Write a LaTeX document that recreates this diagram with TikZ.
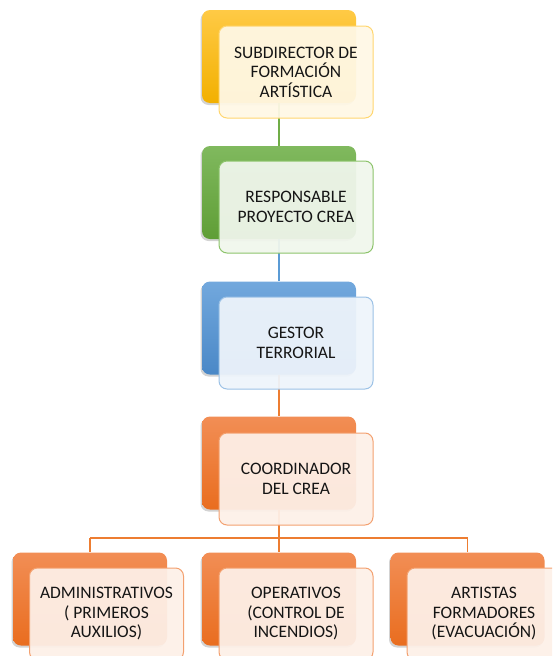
\documentclass[tikz,border=0pt]{standalone}
\usepackage{fontspec}
\setmainfont{Carlito}
\usetikzlibrary{shadows}
\definecolor{txt}{HTML}{151515}
\definecolor{yT}{HTML}{FFCA45}\definecolor{yB}{HTML}{F2B000}
\definecolor{yF}{HTML}{FFF8E6}\definecolor{yD}{HTML}{FFD670}
\definecolor{gT}{HTML}{80B95E}\definecolor{gB}{HTML}{5F9E36}
\definecolor{gF}{HTML}{F0F6EC}\definecolor{gD}{HTML}{8DC46C}
\definecolor{bT}{HTML}{72A8DD}\definecolor{bB}{HTML}{4A88C7}
\definecolor{bF}{HTML}{EEF4FB}\definecolor{bD}{HTML}{9CC2E6}
\definecolor{oT}{HTML}{F28E55}\definecolor{oB}{HTML}{E96D1F}
\definecolor{oF}{HTML}{FDF0E8}\definecolor{oD}{HTML}{F3A170}
\definecolor{gl}{HTML}{70AD47}\definecolor{bl}{HTML}{5B9BD5}\definecolor{ol}{HTML}{ED7D31}
\tikzset{
  backbox/.style 2 args={rounded corners=8pt, minimum width=154pt, minimum height=93pt, inner sep=0pt,
     top color=#1, bottom color=#2, draw=none,
     drop shadow={shadow xshift=-1.5pt, shadow yshift=-2pt, opacity=0.35}},
  frontbox/.style 2 args={rounded corners=8pt, minimum width=154pt, minimum height=92pt, inner sep=0pt,
     fill=#1, fill opacity=0.94, text opacity=1, draw=#2, line width=1pt,
     font=\fontsize{17.5}{19.5}\selectfont, text=txt, align=center},
  conn/.style={line width=1.5pt, draw=#1}
}
\begin{document}
\begin{tikzpicture}[x=1pt,y=-1pt]
\useasboundingbox (0,0) rectangle (552,656);
\clip (0,0) rectangle (552,656);
% back boxes
\node[backbox={yT}{yB}] (b1) at (279,56.5) {};
\node[backbox={gT}{gB}] (b2) at (279,192.5) {};
\node[backbox={bT}{bB}] (b3) at (279,328) {};
\node[backbox={oT}{oB}] (b4) at (279,463) {};
\node[backbox={oT}{oB}] (b5) at (90,599) {};
\node[backbox={oT}{oB}] (b6) at (279,599) {};
\node[backbox={oT}{oB}] (b7) at (467.5,599) {};
% connectors
\coordinate (h) at (279,538);
\coordinate (hl) at (90,538);
\coordinate (hr) at (467.5,538);
\draw[conn=gl] (b1.south) -- (b2.north);
\draw[conn=bl] (b2.south) -- (b3.north);
\draw[conn=ol] (b3.south) -- (b4.north);
\draw[conn=ol] (b4.south) -- (h);
\draw[conn=ol] (hl) -- (hr);
\draw[conn=ol] (hl) -- (b5.north);
\draw[conn=ol] (h) -- (b6.north);
\draw[conn=ol] (hr) -- (b7.north);
% front boxes
\node[frontbox={yF}{yD}] (f1) at (296,72) {SUBDIRECTOR DE\\FORMACIÓN\\ARTÍSTICA};
\node[frontbox={gF}{gD}] (f2) at (296,207) {RESPONSABLE\\PROYECTO CREA};
\node[frontbox={bF}{bD}] (f3) at (296,343) {GESTOR\\TERRORIAL};
\node[frontbox={oF}{oD}] (f4) at (296,479) {COORDINADOR\\DEL CREA};
\node[frontbox={oF}{oD}] (f5) at (106.5,614) {ADMINISTRATIVOS\\( PRIMEROS\\AUXILIOS)};
\node[frontbox={oF}{oD}] (f6) at (296,614) {OPERATIVOS\\(CONTROL DE\\INCENDIOS)};
\node[frontbox={oF}{oD}] (f7) at (484,614) {ARTISTAS\\FORMADORES\\(EVACUACIÓN)};
\end{tikzpicture}
\end{document}
